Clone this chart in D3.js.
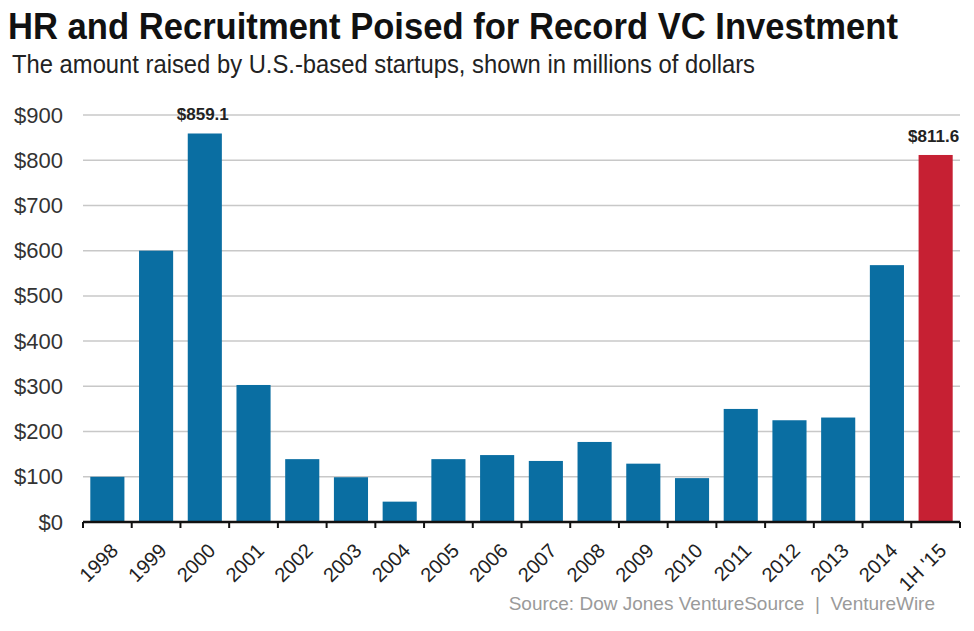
<!DOCTYPE html>
<html>
<head>
<meta charset="utf-8">
<script src="https://cdn.jsdelivr.net/npm/d3@7"></script>
<style>
  body { margin: 0; background: #fff; }
  text { font-family: "Liberation Sans", Arial, Helvetica, sans-serif; }
</style>
</head>
<body>
<div class="playground"></div>
<script>
// chart data
var categories = ["1998", "1999", "2000", "2001", "2002", "2003", "2004", "2005", "2006",
                  "2007", "2008", "2009", "2010", "2011", "2012", "2013", "2014", "1H '15"];
var amounts    = [100, 600, 859.1, 303, 139, 99, 45, 139, 148,
                  135, 177, 129, 97, 250, 225, 231, 568, 811.6];
var yTicks     = [0, 100, 200, 300, 400, 500, 600, 700, 800, 900];
var labelled   = {"2000": "$859.1", "1H '15": "$811.6"};

var title    = "HR and Recruitment Poised for Record VC Investment";
var subtitle = "The amount raised by U.S.-based startups, shown in millions of dollars";
var source   = "Source: Dow Jones VentureSource  |  VentureWire";

var width  = 974,
    height = 631;

var margin = {top: 115, right: 14, bottom: 109, left: 83};

var svg = d3.select(".playground")
            .append("svg")
            .attr("width", width)
            .attr("height", height);

var x = d3.scaleBand()
          .domain(categories)
          .range([margin.left, width - margin.right])
          .paddingInner(0.3)
          .paddingOuter(0.15);

var y = d3.scaleLinear()
          .domain([0, 900])
          .range([height - margin.bottom, margin.top]);

// titles (squeezed to the narrow look of the original)
svg.append("text")
   .attr("x", 8)
   .attr("y", 39)
   .attr("textLength", 890)
   .attr("lengthAdjust", "spacingAndGlyphs")
   .style("font-family", "'Liberation Sans Narrow', 'Liberation Sans', Arial, sans-serif")
   .style("font-size", "37px")
   .style("font-weight", "bold")
   .style("fill", "#111")
   .text(title);

svg.append("text")
   .attr("x", 12)
   .attr("y", 73)
   .attr("textLength", 743)
   .attr("lengthAdjust", "spacingAndGlyphs")
   .style("font-size", "25px")
   .style("fill", "#222")
   .text(subtitle);

// gridlines
svg.append("g")
   .selectAll("line")
   .data(yTicks.slice(1))
   .enter()
   .append("line")
   .attr("x1", margin.left)
   .attr("x2", width - margin.right)
   .attr("y1", function(d) { return y(d); })
   .attr("y2", function(d) { return y(d); })
   .style("stroke", "#c8c8c8")
   .style("stroke-width", 1.5);

// y labels
var yAxis = svg.append("g")
               .attr("transform", "translate(" + (margin.left - 20) + ",0)")
               .call(d3.axisLeft(y).tickValues(yTicks).tickSize(0)
                       .tickFormat(function(d) { return "$" + d; }));
yAxis.select(".domain").remove();
yAxis.selectAll("text")
     .attr("x", 0)
     .style("font-size", "22px")
     .style("font-family", "'Liberation Sans', Arial, sans-serif")
     .style("fill", "#333");

// bars
svg.append("g")
   .selectAll("rect")
   .data(categories)
   .enter()
   .append("rect")
   .attr("x", function(d) { return x(d); })
   .attr("width", x.bandwidth())
   .attr("y", function(d, i) { return y(amounts[i]); })
   .attr("height", function(d, i) { return y(0) - y(amounts[i]); })
   .style("fill", function(d, i) { return i === categories.length - 1 ? "#c62033" : "#0a6ea2"; });

// value labels
svg.append("g")
   .selectAll("text")
   .data(categories.filter(function(d) { return d in labelled; }))
   .enter()
   .append("text")
   .attr("x", function(d) { return x(d) + x.bandwidth() / 2 - 2; })
   .attr("y", function(d) { return y(amounts[categories.indexOf(d)]) - 13; })
   .attr("text-anchor", "middle")
   .style("font-size", "17px")
   .style("font-weight", "bold")
   .style("fill", "#222")
   .text(function(d) { return labelled[d]; });

// x axis line + boundary ticks
var base = y(0);
svg.append("line")
   .attr("x1", margin.left)
   .attr("x2", width - margin.right)
   .attr("y1", base)
   .attr("y2", base)
   .style("stroke", "#111")
   .style("stroke-width", 2.5);

var bounds = categories.map(function(d) { return x(d) - x.step() * x.paddingOuter(); });
bounds.push(width - margin.right);

svg.append("g")
   .selectAll("line")
   .data(bounds)
   .enter()
   .append("line")
   .attr("x1", function(d) { return d; })
   .attr("x2", function(d) { return d; })
   .attr("y1", base)
   .attr("y2", base + 6)
   .style("stroke", "#111")
   .style("stroke-width", 2);

// x labels
var xAxis = svg.append("g")
               .attr("transform", "translate(0," + (base + 20) + ")")
               .call(d3.axisBottom(x).tickSize(0));
xAxis.select(".domain").remove();
xAxis.selectAll("text")
     .attr("x", 0)
     .attr("y", 0)
     .attr("dy", "0.7em")
     .attr("text-anchor", "end")
     .attr("transform", "translate(2,0) rotate(-45)")
     .style("font-size", "20px")
     .style("font-family", "'Liberation Sans', Arial, sans-serif")
     .style("fill", "#222");

// source
svg.append("text")
   .attr("x", 935)
   .attr("y", 610)
   .attr("text-anchor", "end")
   .style("font-size", "19px")
   .style("fill", "#9a9a9a")
   .attr("xml:space", "preserve")
   .text(source);
</script>
</body>
</html>
